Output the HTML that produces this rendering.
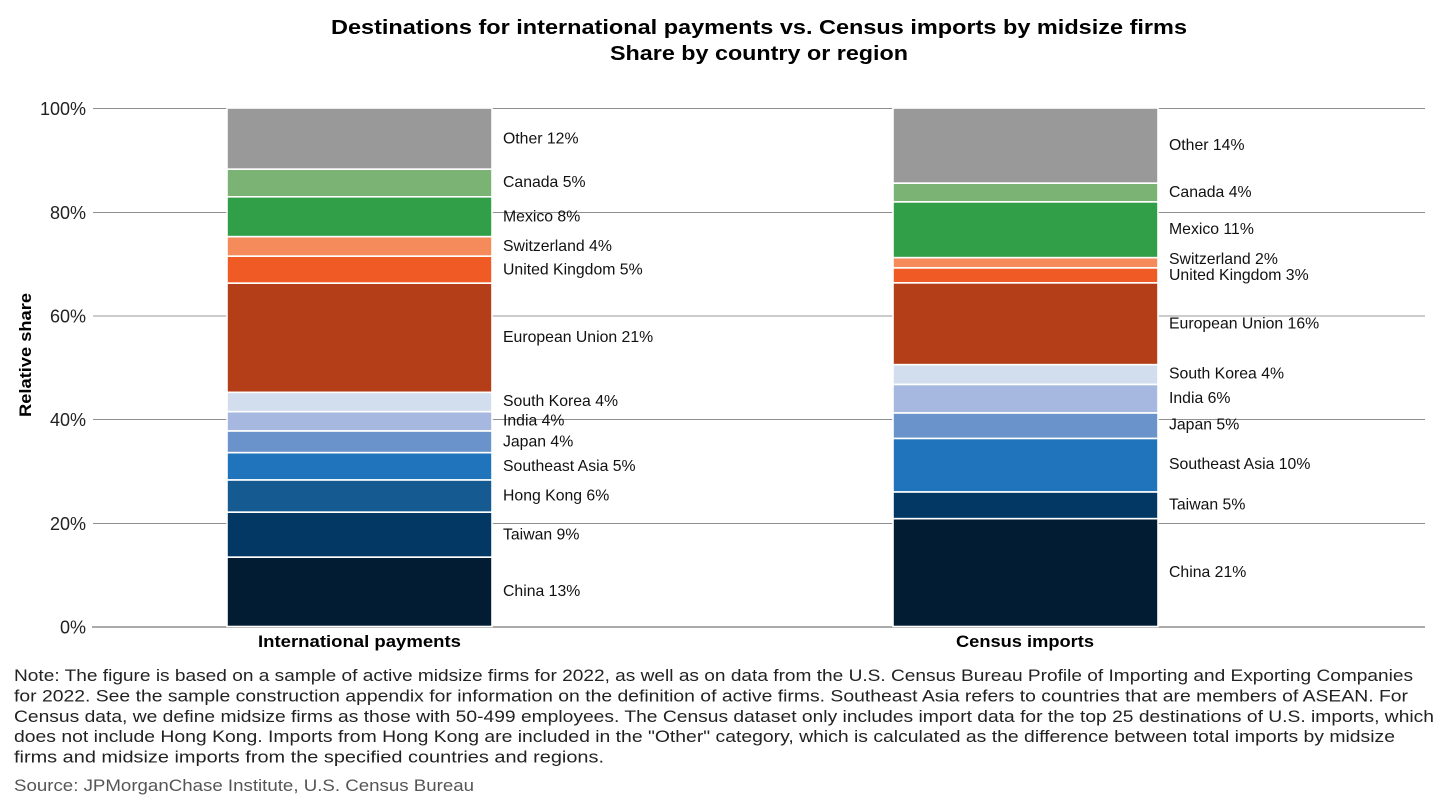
<!DOCTYPE html>
<html>
<head>
<meta charset="utf-8">
<style>
  html,body{margin:0;padding:0;background:#fff;}
  svg{display:block;}
  text{font-family:"Liberation Sans", sans-serif;}
</style>
</head>
<body>
<svg width="1440" height="800" viewBox="0 0 1440 800" xmlns="http://www.w3.org/2000/svg">
  <rect width="1440" height="800" fill="#fff"/>

  <!-- Title -->
  <text x="331" y="34" font-size="20" font-weight="bold" fill="#000" textLength="856" lengthAdjust="spacingAndGlyphs">Destinations for international payments vs. Census imports by midsize firms</text>
  <text x="610" y="60" font-size="20" font-weight="bold" fill="#000" textLength="298" lengthAdjust="spacingAndGlyphs">Share by country or region</text>

  <!-- Gridlines -->
  <g stroke="#8f8f8f" stroke-width="1">
    <line x1="93" y1="108.5" x2="1425" y2="108.5"/>
    <line x1="93" y1="212.5" x2="1425" y2="212.5"/>
    <line x1="93" y1="419.5" x2="1425" y2="419.5"/>
    <line x1="93" y1="523.5" x2="1425" y2="523.5"/>
  </g>
  <line x1="93" y1="316" x2="1425" y2="316" stroke="#cccccc" stroke-width="2"/>
  <line x1="92" y1="627" x2="1425" y2="627" stroke="#aaaaaa" stroke-width="2"/>

  <!-- Y tick labels -->
  <g font-size="18" fill="#222" text-anchor="end">
    <text x="86" y="115">100%</text>
    <text x="86" y="219">80%</text>
    <text x="86" y="322.5">60%</text>
    <text x="86" y="426">40%</text>
    <text x="86" y="530">20%</text>
    <text x="86" y="633.5">0%</text>
  </g>

  <!-- Y axis title -->
  <text transform="translate(31,355) rotate(-90)" text-anchor="middle" font-size="17" font-weight="bold" fill="#000" textLength="124" lengthAdjust="spacingAndGlyphs">Relative share</text>

  <!-- Left bar: International payments -->
  <g stroke="#fff" stroke-width="1.6">
    <rect x="227" y="108" width="265" height="61.2" fill="#999999"/>
    <rect x="227" y="169.2" width="265" height="27.6" fill="#7bb374"/>
    <rect x="227" y="196.8" width="265" height="39.9" fill="#319e48"/>
    <rect x="227" y="236.7" width="265" height="19.5" fill="#f58a5a"/>
    <rect x="227" y="256.2" width="265" height="27" fill="#f05a24"/>
    <rect x="227" y="283.2" width="265" height="109.2" fill="#b33e18"/>
    <rect x="227" y="392.4" width="265" height="19.3" fill="#d2deee"/>
    <rect x="227" y="411.7" width="265" height="19.3" fill="#a6b8e0"/>
    <rect x="227" y="431" width="265" height="21.7" fill="#6b93cb"/>
    <rect x="227" y="452.7" width="265" height="27.3" fill="#1f74bc"/>
    <rect x="227" y="480" width="265" height="32.2" fill="#155a91"/>
    <rect x="227" y="512.2" width="265" height="45" fill="#033764"/>
    <rect x="227" y="557.2" width="265" height="69.3" fill="#021d33"/>
  </g>

  <!-- Right bar: Census imports -->
  <g stroke="#fff" stroke-width="1.6">
    <rect x="893" y="108" width="265" height="75.2" fill="#999999"/>
    <rect x="893" y="183.2" width="265" height="18.7" fill="#7bb374"/>
    <rect x="893" y="201.9" width="265" height="55.8" fill="#319e48"/>
    <rect x="893" y="257.7" width="265" height="10.2" fill="#f58a5a"/>
    <rect x="893" y="267.9" width="265" height="15" fill="#f05a24"/>
    <rect x="893" y="282.9" width="265" height="81.8" fill="#b33e18"/>
    <rect x="893" y="364.7" width="265" height="19.8" fill="#d2deee"/>
    <rect x="893" y="384.5" width="265" height="28.5" fill="#a6b8e0"/>
    <rect x="893" y="413" width="265" height="25.5" fill="#6b93cb"/>
    <rect x="893" y="438.5" width="265" height="53.5" fill="#1f74bc"/>
    <rect x="893" y="492" width="265" height="26.7" fill="#033764"/>
    <rect x="893" y="518.7" width="265" height="107.8" fill="#021d33"/>
  </g>

  <!-- Left labels -->
  <g font-size="15.8" fill="#111">
    <text x="503" y="143.5">Other 12%</text>
    <text x="503" y="187">Canada 5%</text>
    <text x="503" y="221.5">Mexico 8%</text>
    <text x="503" y="251">Switzerland 4%</text>
    <text x="503" y="274.5">United Kingdom 5%</text>
    <text x="503" y="342">European Union 21%</text>
    <text x="503" y="406">South Korea 4%</text>
    <text x="503" y="425.5">India 4%</text>
    <text x="503" y="446.5">Japan 4%</text>
    <text x="503" y="471">Southeast Asia 5%</text>
    <text x="503" y="500.5">Hong Kong 6%</text>
    <text x="503" y="539.5">Taiwan 9%</text>
    <text x="503" y="596">China 13%</text>
  </g>

  <!-- Right labels -->
  <g font-size="15.8" fill="#111">
    <text x="1169" y="150">Other 14%</text>
    <text x="1169" y="197">Canada 4%</text>
    <text x="1169" y="234">Mexico 11%</text>
    <text x="1169" y="264">Switzerland 2%</text>
    <text x="1169" y="280">United Kingdom 3%</text>
    <text x="1169" y="328.5">European Union 16%</text>
    <text x="1169" y="378.5">South Korea 4%</text>
    <text x="1169" y="403">India 6%</text>
    <text x="1169" y="429.5">Japan 5%</text>
    <text x="1169" y="469">Southeast Asia 10%</text>
    <text x="1169" y="509.5">Taiwan 5%</text>
    <text x="1169" y="577">China 21%</text>
  </g>

  <!-- X axis labels -->
  <text x="258" y="647" font-size="17" font-weight="bold" fill="#000" textLength="203" lengthAdjust="spacingAndGlyphs">International payments</text>
  <text x="956" y="647" font-size="17" font-weight="bold" fill="#000" textLength="138" lengthAdjust="spacingAndGlyphs">Census imports</text>

  <!-- Note -->
  <g font-size="17" fill="#222">
    <text x="14" y="681" textLength="1399" lengthAdjust="spacingAndGlyphs">Note: The figure is based on a sample of active midsize firms for 2022, as well as on data from the U.S. Census Bureau Profile of Importing and Exporting Companies</text>
    <text x="14" y="701.5" textLength="1394" lengthAdjust="spacingAndGlyphs">for 2022. See the sample construction appendix for information on the definition of active firms. Southeast Asia refers to countries that are members of ASEAN. For</text>
    <text x="14" y="722" textLength="1420" lengthAdjust="spacingAndGlyphs">Census data, we define midsize firms as those with 50-499 employees. The Census dataset only includes import data for the top 25 destinations of U.S. imports, which</text>
    <text x="14" y="742" textLength="1381" lengthAdjust="spacingAndGlyphs">does not include Hong Kong. Imports from Hong Kong are included in the "Other" category, which is calculated as the difference between total imports by midsize</text>
    <text x="14" y="762.5" textLength="590" lengthAdjust="spacingAndGlyphs">firms and midsize imports from the specified countries and regions.</text>
  </g>
  <text x="14" y="791" font-size="17" fill="#555" textLength="460" lengthAdjust="spacingAndGlyphs">Source: JPMorganChase Institute, U.S. Census Bureau</text>
</svg>
</body>
</html>
